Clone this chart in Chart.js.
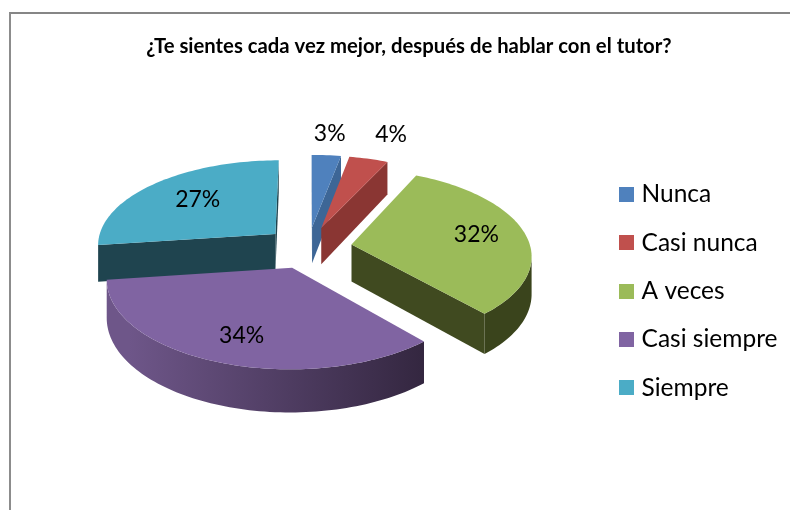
<!DOCTYPE html>
<html><head><meta charset="utf-8">
<style>
html,body{margin:0;padding:0;background:#fff;width:790px;height:510px;overflow:hidden}
#frame{position:absolute;left:9px;top:12px;width:781px;height:498px;border-left:2px solid #8c8c8c;border-top:2px solid #868686;box-sizing:border-box}
canvas{position:absolute;left:0;top:0}
</style>
<script src="https://cdn.jsdelivr.net/npm/chart.js@4/dist/chart.umd.min.js"></script>
</head><body>
<div id="frame"></div>
<canvas id="c" width="790" height="510"></canvas>
<script>
const titleText = "¿Te sientes cada vez mejor, después de hablar con el tutor?";
const categories = ["Nunca","Casi nunca","A veces","Casi siempre","Siempre"];
const values = [3,4,31.5,34.4,27.1];
const topColors = ["#4f81bd","#c0504d","#9bbb59","#8064a2","#4bacc6"];
const radialWall = ["#3d6696","#8a3633","#404a20","#4d3c62","#1f444f"];
const arcWallLeft = ["#3d6696","#8a3633","#4a5626","#6e5689","#2a5a68"];
const arcWallRight = ["#3d6696","#8a3633","#3a441c","#33263f","#1f444f"];
const labelRadius = [1.33,1.38,0.68,0.75,0.6];
const labelShiftU = [-0.005,0.045,0.04,0.018,-0.022];
const labelShiftV = [-0.01,-0.02,-0.02,-0.01,-0.045];
const explode = 48;
const camera = {cx:308,cy:247.5,A:179,B:85,D:37,p:0.115};

function project(U,V,z){
  const w = 1 - camera.p*V;
  return {x:camera.cx + camera.A*U/w, y:camera.cy + (camera.B*V + camera.D*z)/w};
}
function swatch(color){
  const c=document.createElement('canvas');c.width=15;c.height=15;
  const g=c.getContext('2d');g.fillStyle=color;g.fillRect(0,0,15,15);return c;
}
function sliceGeometry(arc){
  const p=arc.getProps(['startAngle','endAngle','outerRadius'],true);
  const mid=(p.startAngle+p.endAngle)/2;
  const off=arc.options.offset/p.outerRadius;
  const ox=Math.cos(mid)*off, oy=Math.sin(mid)*off;
  const n=Math.max(2,Math.ceil((p.endAngle-p.startAngle)*40));
  const pts=[];
  for(let i=0;i<=n;i++){
    const a=p.startAngle+(p.endAngle-p.startAngle)*i/n;
    pts.push([ox+Math.cos(a),oy+Math.sin(a)]);
  }
  return {mid,ox,oy,pts};
}
const pie3d={
  id:'pie3d',
  beforeDatasetDraw(chart){
    const ctx=chart.ctx, arcs=chart.getDatasetMeta(0).data;
    const geo=arcs.map(sliceGeometry);
    const order=arcs.map((_,i)=>i).sort((a,b)=>geo[a].oy-geo[b].oy);
    const wall=(line,fill)=>{
      ctx.beginPath();
      line.forEach((q,k)=>{const s=project(q[0],q[1],0);k?ctx.lineTo(s.x,s.y):ctx.moveTo(s.x,s.y);});
      line.slice().reverse().forEach(q=>{const s=project(q[0],q[1],1);ctx.lineTo(s.x,s.y);});
      ctx.closePath();ctx.fillStyle=fill;ctx.fill();
    };
    const facing=(a,b)=>project(b[0],b[1],0).x<project(a[0],a[1],0).x;
    ctx.save();
    for(const i of order){
      const g=geo[i], apex=[g.ox,g.oy], pts=g.pts;
      if(facing(apex,pts[0])) wall([apex,pts[0]],radialWall[i]);
      if(facing(pts[pts.length-1],apex)) wall([pts[pts.length-1],apex],radialWall[i]);
      const l=project(-1,0,0).x, r=project(1,0,0).x;
      const grad=ctx.createLinearGradient(l,0,r-60,0);
      grad.addColorStop(0,arcWallLeft[i]);grad.addColorStop(1,arcWallRight[i]);
      const vis=[];
      for(let k=0;k<pts.length-1;k++) if(facing(pts[k],pts[k+1])) vis.push(k);
      if(vis.length) wall(pts.slice(vis[0],vis[vis.length-1]+2),grad);
      ctx.beginPath();
      const a=project(apex[0],apex[1],0);ctx.moveTo(a.x,a.y);
      for(const q of pts){const s=project(q[0],q[1],0);ctx.lineTo(s.x,s.y);}
      ctx.closePath();ctx.fillStyle=topColors[i];ctx.fill();
    }
    const total=values.reduce((s,v)=>s+v,0);
    ctx.fillStyle='#000';ctx.font='23px Lato';ctx.textAlign='center';ctx.textBaseline='middle';
    geo.forEach((g,i)=>{
      const s=project(g.ox+Math.cos(g.mid)*labelRadius[i]+labelShiftU[i],g.oy+Math.sin(g.mid)*labelRadius[i]+labelShiftV[i],0);
      ctx.fillText(Math.round(values[i]/total*100)+'%',s.x,s.y);
    });
    ctx.restore();
    return false;
  }
};
new Chart(document.getElementById('c'),{
  type:'pie',
  data:{labels:categories,datasets:[{data:values,backgroundColor:topColors,borderWidth:0,offset:explode}]},
  plugins:[pie3d],
  options:{
    responsive:false,animation:false,
    layout:{padding:{left:30.5,right:2.5,top:0,bottom:0}},
    plugins:{
      tooltip:{enabled:false},
      title:{display:true,text:titleText,color:'#000',font:{family:'Lato',size:20.3,weight:'bold'},padding:{top:34,bottom:14}},
      legend:{position:'right',fullSize:false,labels:{
        color:'#000',font:{family:'Lato',size:24.5},padding:23.8,boxWidth:5,boxHeight:15,usePointStyle:true,
        generateLabels(chart){
          return Chart.overrides.pie.plugins.legend.labels.generateLabels(chart).map((it,i)=>Object.assign(it,{pointStyle:swatch(topColors[i])}));
        }
      }}
    }
  }
});
</script>
</body></html>
